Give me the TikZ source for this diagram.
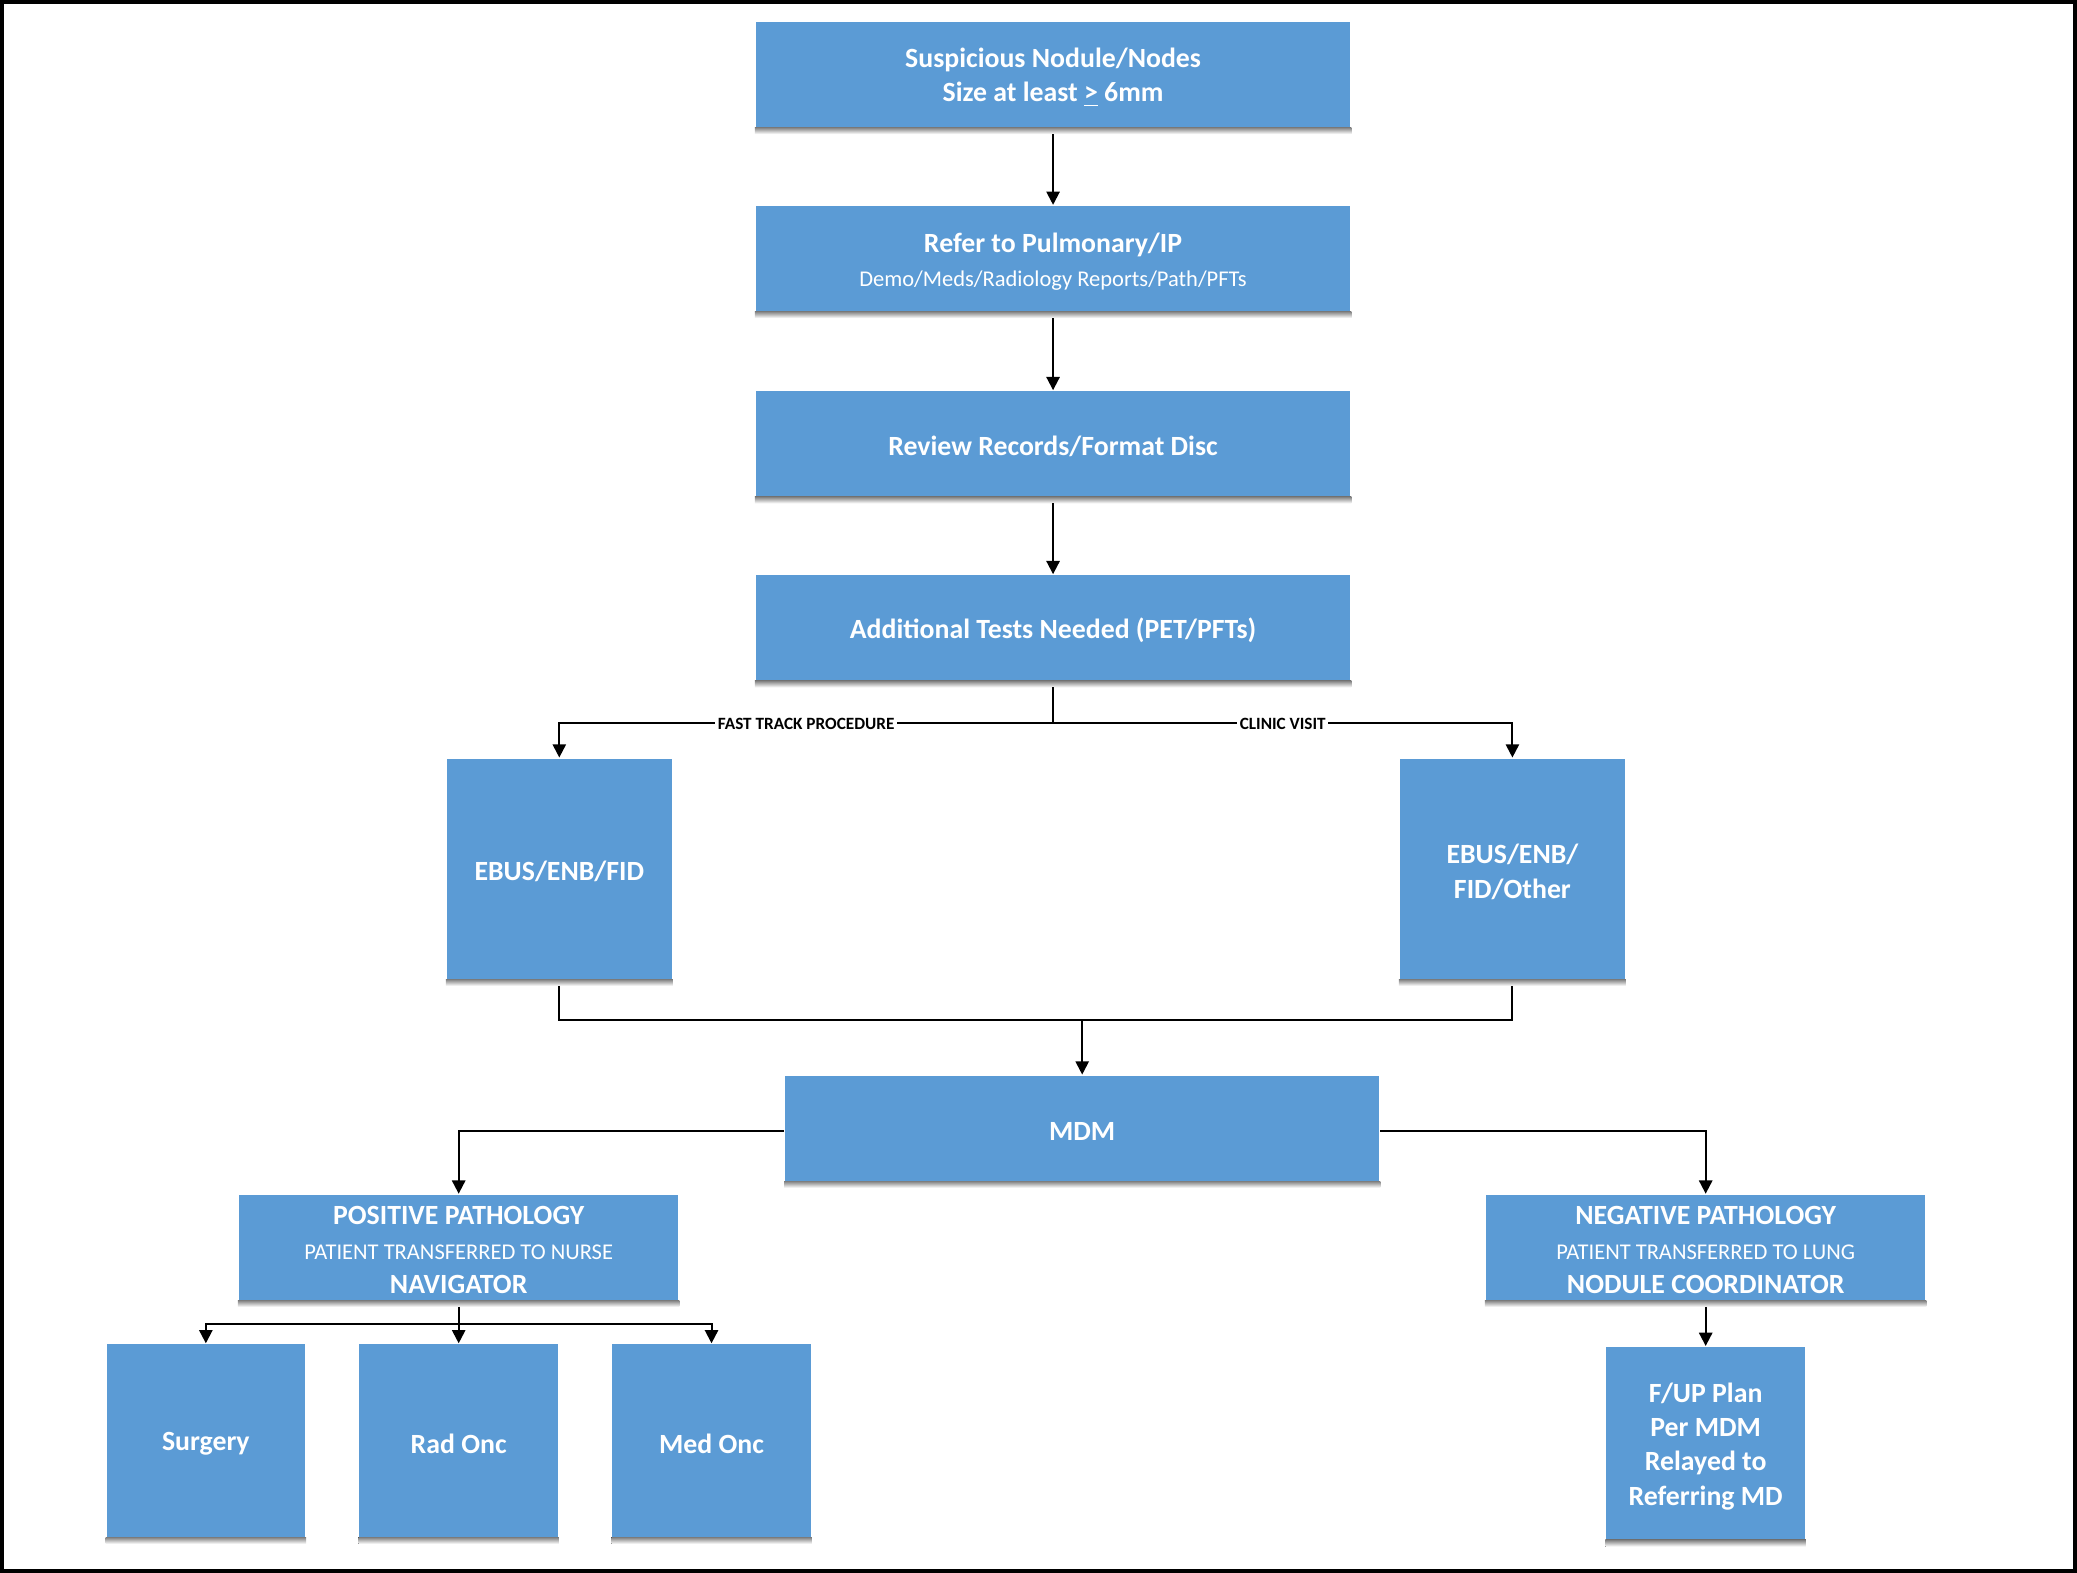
\documentclass[tikz,border=0pt]{standalone}
\usepackage{fontspec}
\setmainfont{Carlito}
\usetikzlibrary{arrows.meta}
\definecolor{boxblue}{HTML}{5B9BD5}
\definecolor{shade}{HTML}{C9D9EE}
\tikzset{every picture/.style={line width=0.75pt}}
\tikzset{
  flowbox/.style={fill=boxblue, draw=none, text=white, font=\bfseries\fontsize{10.5}{13}\selectfont, align=center, inner sep=0pt},
  edgelabel/.style={fill=white, inner sep=1pt, font=\bfseries\fontsize{6.5}{7}\selectfont},
}
\newcommand{\boxshade}[1]{\fill[shade] ([yshift=-2.5]#1.south west) rectangle ([yshift=0]#1.south east);}
\begin{document}
\begin{tikzpicture}[x=0.5pt,y=0.5pt,yscale=-1,xscale=1,>={Triangle[length=5pt,width=5pt]}]

\draw [line width=1.5pt] (1,1) rectangle (1567,1186);

% main column
\node [flowbox, minimum width=224.5pt, minimum height=42pt] (susp) at (795,58) {Suspicious Nodule/Nodes\\Size at least \underline{>} 6mm};
\node [flowbox, minimum width=224.5pt, minimum height=42pt] (refer) at (795,197) {Refer to Pulmonary/IP\\ \mdseries\fontsize{8.5}{10}\selectfont Demo/Meds/Radiology Reports/Path/PFTs};
\node [flowbox, minimum width=224.5pt, minimum height=42pt] (review) at (795,337) {Review Records/Format Disc};
\node [flowbox, minimum width=224.5pt, minimum height=42pt] (tests) at (795,476) {Additional Tests Needed (PET/PFTs)};

% procedures
\node [flowbox, minimum width=85pt, minimum height=85.5pt] (fast) at (422,658) {EBUS/ENB/FID};
\node [flowbox, minimum width=85pt, minimum height=85.5pt] (clinic) at (1142,658) {EBUS/ENB/\\FID/Other};

\node [flowbox, minimum width=224.5pt, minimum height=42pt] (mdm) at (817,854) {MDM};

% pathology
\node [flowbox, minimum width=166pt, minimum height=42pt] (pos) at (346,944) {POSITIVE PATHOLOGY\\ \mdseries\fontsize{8.5}{12}\selectfont PATIENT TRANSFERRED TO NURSE\\NAVIGATOR};
\node [flowbox, minimum width=166pt, minimum height=42pt] (neg) at (1288,944) {NEGATIVE PATHOLOGY\\ \mdseries\fontsize{8.5}{12}\selectfont PATIENT TRANSFERRED TO LUNG\\NODULE COORDINATOR};

\node [flowbox, minimum width=75pt, minimum height=75pt] (surg) at (155,1090) {Surgery};
\node [flowbox, minimum width=75pt, minimum height=75pt] (rad) at (346,1090) {Rad Onc};
\node [flowbox, minimum width=75pt, minimum height=75pt] (med) at (537,1090) {Med Onc};
\node [flowbox, minimum width=75pt, minimum height=75pt] (fup) at (1288,1092) {F/UP Plan\\Per MDM\\Relayed to\\Referring MD};

\foreach \n in {susp,refer,review,tests,fast,clinic,mdm,pos,neg,surg,rad,med,fup} {\boxshade{\n}}

% connectors
\draw [->] (susp) -- (refer);
\draw [->] (refer) -- (review);
\draw [->] (review) -- (tests);
\coordinate (split) at (795,546);
\draw (tests.south) -- (split);
\draw [->] (split) -- node [edgelabel, pos=0.5] {FAST TRACK PROCEDURE} (fast.north |- split) -- (fast.north);
\draw [->] (split) -- node [edgelabel, pos=0.5] {CLINIC VISIT} (clinic.north |- split) -- (clinic.north);
\coordinate (merge) at (817,770);
\draw (fast.south) |- (merge);
\draw (clinic.south) |- (merge);
\draw [->] (merge) -- (mdm.north);
\draw [->] (mdm.west) -| (pos.north);
\draw [->] (mdm.east) -| (neg.north);
\coordinate (fork) at (346,1000);
\draw (pos.south) -- (fork);
\draw [->] (fork) -| (surg.north);
\draw [->] (fork) -- (rad.north);
\draw [->] (fork) -| (med.north);
\draw [->] (neg.south) -- (fup.north);

\end{tikzpicture}
\end{document}
